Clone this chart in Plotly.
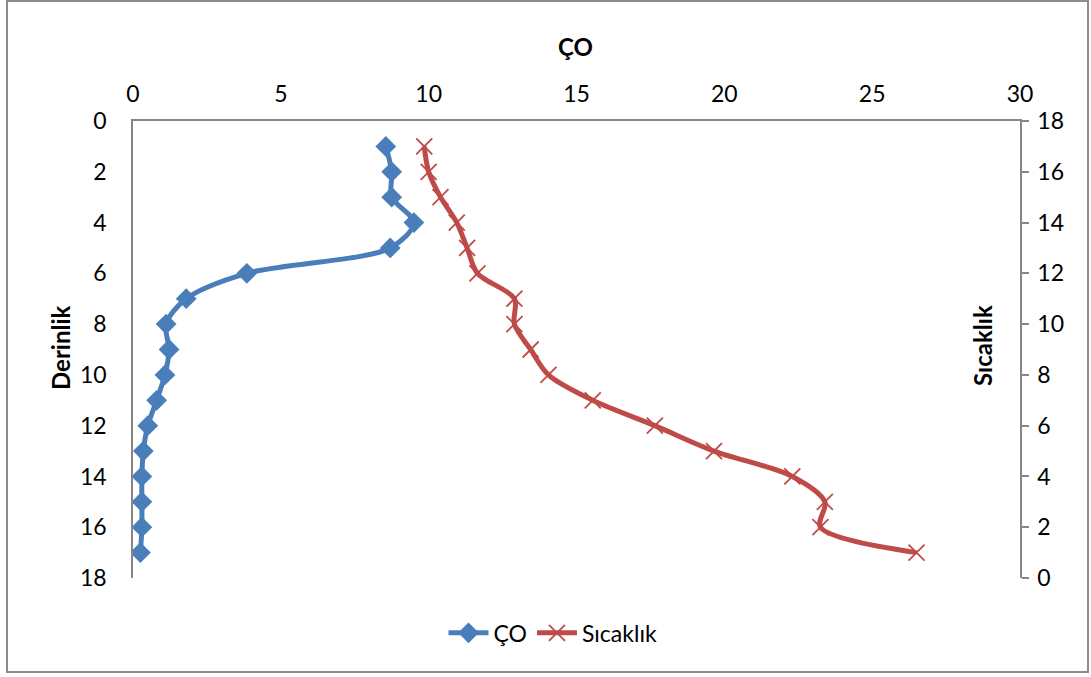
import plotly.graph_objects as go

# Depth levels (left axis) and dissolved-oxygen readings
derinlik = [1, 2, 3, 4, 5, 6, 7, 8, 9, 10, 11, 12, 13, 14, 15, 16, 17]
co = [8.55, 8.75, 8.75, 9.5, 8.7, 3.85, 1.8, 1.12, 1.22, 1.08, 0.8, 0.5, 0.35, 0.3, 0.3, 0.3, 0.25]

# Temperature series: x values and their positions on the right axis
sicaklik_x = [9.85, 10.0, 10.4, 10.95, 11.3, 11.65, 12.9, 12.9, 13.45, 14.05,
              15.55, 17.65, 19.65, 22.3, 23.4, 23.25, 26.5]
sicaklik_y = [17, 16, 15, 14, 13, 12, 11, 10, 9, 8, 7, 6, 5, 4, 3, 2, 1]

x_ticks = [0, 5, 10, 15, 20, 25, 30]
y_ticks = [0, 2, 4, 6, 8, 10, 12, 14, 16, 18]

BLUE = "#4A7EBB"
RED = "#BE4B48"
AXIS = "#868686"
FONT = "Lato, 'Open Sans', sans-serif"
TICK_SIZE = 23
TITLE_SIZE = 24

fig = go.Figure()

fig.add_trace(go.Scatter(
    x=co, y=derinlik, name="ÇO", mode="lines+markers",
    line=dict(color=BLUE, width=5, shape="spline", smoothing=0.9),
    marker=dict(symbol="diamond", size=16, color=BLUE),
    xaxis="x", yaxis="y",
))

fig.add_trace(go.Scatter(
    x=sicaklik_x, y=sicaklik_y, name="Sıcaklık", mode="lines+markers",
    line=dict(color=RED, width=5, shape="spline", smoothing=0.9),
    marker=dict(symbol="x-thin", size=16, color=RED,
                line=dict(color=RED, width=1.8)),
    xaxis="x", yaxis="y2",
))

fig.update_layout(
    width=1091, height=677,
    margin=dict(l=133, r=71, t=121, b=99, autoexpand=False),
    paper_bgcolor="white", plot_bgcolor="white",
    font=dict(family=FONT, size=TICK_SIZE, color="black"),
    showlegend=True,
    legend=dict(orientation="h", x=(553 - 133) / 887, xanchor="center",
                y=-0.12, yanchor="middle", font=dict(size=TICK_SIZE),
                itemwidth=40, bgcolor="rgba(0,0,0,0)"),
    xaxis=dict(
        side="top", range=[0, 30], tickvals=x_ticks,
        showgrid=False, zeroline=False, automargin=False,
        showline=True, linecolor=AXIS, linewidth=1.5,
        ticks="", ticklen=0, ticklabelstandoff=8,
    ),
    yaxis=dict(
        range=[18, 0], tickvals=y_ticks,
        showgrid=False, zeroline=False, automargin=False,
        showline=True, linecolor=AXIS, linewidth=1.5,
        ticks="", ticklen=0, ticklabelstandoff=20,
    ),
    yaxis2=dict(
        overlaying="y", side="right", anchor="x",
        range=[0, 18], tickvals=y_ticks,
        showgrid=False, zeroline=False, automargin=False,
        showline=True, linecolor=AXIS, linewidth=1.5,
        ticks="outside", ticklen=7, tickcolor=AXIS, tickwidth=1.5,
        ticklabelstandoff=4,
    ),
)

# Axis titles
title_font = dict(family=FONT, size=TITLE_SIZE, color="black")
title_common = dict(xref="paper", yref="paper", xanchor="center",
                    yanchor="middle", showarrow=False, font=title_font)
fig.add_annotation(text="<b>ÇO</b>", x=(575 - 133) / 887,
                   y=(578 - 46) / 457, **title_common)
fig.add_annotation(text="<b>Derinlik</b>", x=(60 - 133) / 887,
                   y=(578 - 348) / 457, textangle=-90, **title_common)
fig.add_annotation(text="<b>Sıcaklık</b>", x=(982 - 133) / 887,
                   y=(578 - 346) / 457, textangle=-90, **title_common)

# Outer chart frame
fig.add_shape(
    type="rect", xref="paper", yref="paper",
    x0=(7 - 133) / 887, x1=(1088 - 133) / 887,
    y0=(578 - 672) / 457, y1=(578 - 1) / 457,
    line=dict(color="#8C8C8C", width=2), fillcolor="rgba(0,0,0,0)",
    layer="below",
)

fig.write_html("out.html")
